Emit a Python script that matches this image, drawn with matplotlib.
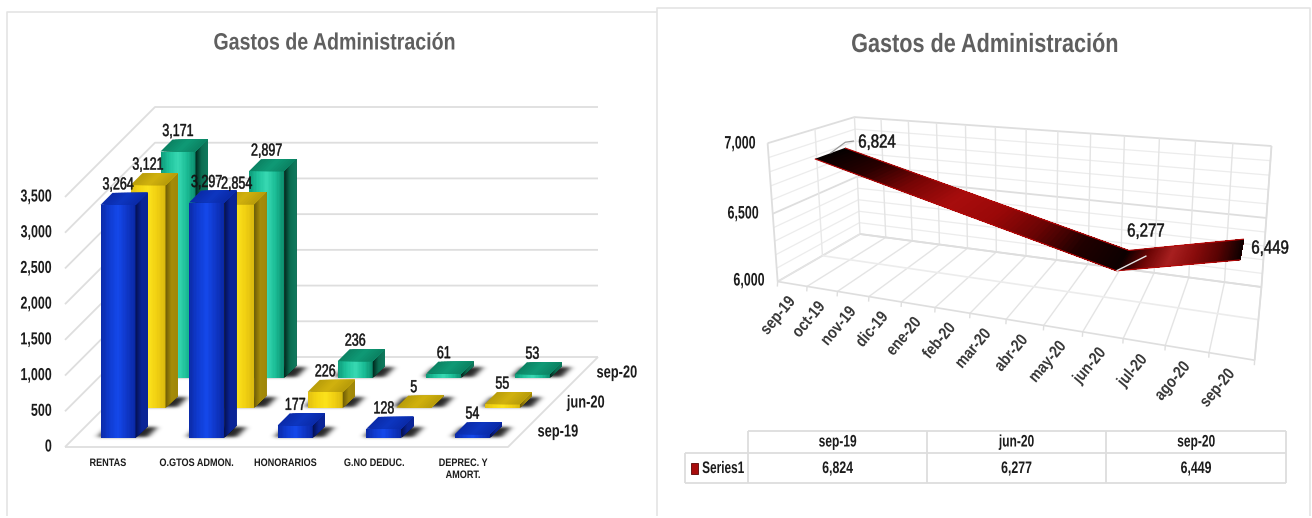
import numpy as np
import matplotlib
matplotlib.use("Agg")
import matplotlib.pyplot as plt
from matplotlib.collections import PolyCollection
from matplotlib.colors import LinearSegmentedColormap as LSC
from matplotlib.patches import Rectangle
from matplotlib.path import Path
from matplotlib.patheffects import AbstractPathEffect
from matplotlib.transforms import Affine2D

# ---------- data ----------
categories = ["RENTAS", "O.GTOS ADMON.", "HONORARIOS", "G.NO DEDUC.", "DEPREC. Y\nAMORT."]
periods = ["sep-19", "jun-20", "sep-20"]
sep19 = [3264, 3297, 177, 128, 54]
jun20 = [3121, 2854, 226, 5, 55]
sep20 = [3171, 2897, 236, 61, 53]
yticks_left = [0, 500, 1000, 1500, 2000, 2500, 3000, 3500]

months = ["sep-19", "oct-19", "nov-19", "dic-19", "ene-20", "feb-20", "mar-20",
          "abr-20", "may-20", "jun-20", "jul-20", "ago-20", "sep-20"]
trend_pos = [0, 9, 12]
trend_val = [6824, 6277, 6449]
yticks_right = [6000, 6500, 7000]
title = "Gastos de Administración"
series_name = "Series1"

# ---------- canvas ----------
W, H = 1312, 518
fig = plt.figure(figsize=(W / 100, H / 100), dpi=100)
ax = fig.add_axes([0, 0, 1, 1])
FONT = ["Liberation Sans", "DejaVu Sans"]
GRID = "#dedede"
INK = "#1c1c1c"


class Squeeze(AbstractPathEffect):
    """Horizontally condense glyphs about the text's anchor (the reference font is a narrow one)."""

    def __init__(self, sx, anchor="center", stroke=0.0):
        super().__init__()
        self.sx, self.anchor, self.stroke = sx, anchor, stroke

    def draw_path(self, renderer, gc, tpath, affine, rgbFace=None):
        e = tpath.get_extents()
        a = {"center": (e.x0 + e.x1) / 2, "left": e.x0, "right": e.x1}[self.anchor]
        t = Affine2D().translate(-a, 0).scale(self.sx, 1).translate(a, 0) + affine
        g = renderer.new_gc()
        g.copy_properties(gc)
        if self.stroke and rgbFace is not None:
            g.set_linewidth(self.stroke)
            g.set_foreground(rgbFace)
        renderer.draw_path(g, tpath, t, rgbFace)
        g.restore()


def label(x, y, s, size, sx, bold=True, color=INK, ha="center", stroke=0.0, **kw):
    kw.setdefault("va", "center")
    ax.text(x, y, s, family=FONT, fontsize=size, fontweight="bold" if bold else "normal", color=color, ha=ha,
            path_effects=[Squeeze(sx, ha, stroke)], **kw)


def line(pts, color=GRID, lw=1.3, z=1):
    pts = np.array(pts, float)
    ax.plot(pts[:, 0], pts[:, 1], color=color, lw=lw, zorder=z, solid_capstyle="butt")


# panel frames
line([(7, 516), (7, 12), (657, 12)], "#e4e4e4", 1.2)
line([(657, 516), (657, 8), (1310, 8), (1310, 516)], "#e4e4e4", 1.2)

label(335, 43, title, 17, .83, color="#5f5f5f")
label(985, 45, title, 19, .82, color="#5f5f5f")

# ---------- left chart: oblique 3-D bars ----------
X0, Y0 = 65, 447          # front-left floor corner
FLOOR_W = 443             # px across categories
DEPTH = 90                # px of oblique depth
PX_PER_UNIT = 250 / 3500
SLOT = FLOOR_W / len(categories)
SLOT_D = DEPTH / len(periods)
BAR_W, BAR_D, GAP_X, GAP_D = 35, 12, 26.5, 9


def obl(x_px, d_px, val):
    return (X0 + x_px + d_px, Y0 - val * PX_PER_UNIT - d_px)


for v in yticks_left:
    line([obl(0, 0, v), obl(0, DEPTH, v), obl(FLOOR_W, DEPTH, v)])
    label(52, Y0 - v * PX_PER_UNIT, f"{v:,}", 12.5, .72, ha="right")
line([obl(0, 0, 0), obl(FLOOR_W, 0, 0), obl(FLOOR_W, DEPTH, 0)])

for i, c in enumerate(categories):
    label(108 + i * 88.8, 458, c, 7.8, .84, va="top", linespacing=1.25)
for p, pos in zip(periods, [(558, 432), (586, 403), (617, 373)]):
    label(pos[0], pos[1], p, 12.5, .74)


def strips(p00, p10, p11, p01, cmap, z, n=26):
    """Fill a quad with a gradient from the p00-p01 edge to the p10-p11 edge (painted back to front)."""
    p00, p10, p11, p01 = map(np.array, (p00, p10, p11, p01))
    polys, cols = [], []
    for j in range(n):
        a = j / n
        polys.append([p00 + (p10 - p00) * a, p10, p11, p01 + (p11 - p01) * a])
        cols.append(cmap((j + 0.5) / n))
    ax.add_collection(PolyCollection(polys, facecolors=cols, edgecolors="none", zorder=z))


styles = {
    0: dict(front=LSC.from_list("b", ["#0b2aa6", "#0f3bd0", "#1448ea", "#0f37c8", "#0a28a4"]),
            side=LSC.from_list("bs", ["#04104f", "#0a2496", "#0a2496"]),
            top=LSC.from_list("bt", ["#0a2aa8", "#0d36c0", "#0a2aa8"])),
    1: dict(front=LSC.from_list("y", ["#e0bf12", "#f4d512", "#fbe21c", "#f1d012", "#d9b80e"]),
            side=LSC.from_list("ys", ["#6e5c06", "#a58c0a", "#a08708"]),
            top=LSC.from_list("yt", ["#b89c0a", "#d1b20e", "#b89c0a"])),
    2: dict(front=LSC.from_list("g", ["#0d9a78", "#1fc39c", "#38d8b2", "#1bbd96", "#0b8c6c"]),
            side=LSC.from_list("gs", ["#01261c", "#0b6e52", "#117a5e"]),
            top=LSC.from_list("gt", ["#0b8262", "#0f9a76", "#0b8262"])),
}

# blurred floor shadows, rasterised from the bar footprints
gx, gy = np.meshgrid(np.arange(W) + .5, np.arange(H) + .5)
grid_pts = np.column_stack([gx.ravel(), gy.ravel()])
mask = np.zeros(H * W, bool)
for s in range(len(periods)):
    d0 = s * SLOT_D + GAP_D
    d1 = d0 + BAR_D
    for i in range(len(categories)):
        x0 = i * SLOT + GAP_X
        x1 = x0 + BAR_W
        foot = [obl(x0 - 4, d0 + 1, 0), obl(x1 + 11, d0 + 1, 0), obl(x1 + 11, d1 - 1, 0), obl(x0 - 4, d1 - 1, 0)]
        mask |= Path(foot).contains_points(grid_pts)
shadow = mask.reshape(H, W).astype(float)
kx = np.exp(-0.5 * (np.arange(-9, 10) / 3.2) ** 2)
kx /= kx.sum()
shadow = np.apply_along_axis(lambda r: np.convolve(r, kx, "same"), 1, shadow)
ky = np.exp(-0.5 * (np.arange(-6, 7) / 1.5) ** 2)
ky /= ky.sum()
shadow = np.apply_along_axis(lambda c: np.convolve(c, ky, "same"), 0, shadow)
rgba = np.zeros((H, W, 4))
rgba[..., 3] = np.clip(shadow * .85, 0, 1)
ax.imshow(rgba, extent=(0, W, H, 0), aspect="auto", zorder=2, interpolation="bilinear")
ax.set_xlim(0, W)
ax.set_ylim(H, 0)
ax.axis("off")

z = 3
for s, vals in reversed(list(enumerate([sep19, jun20, sep20]))):
    st = styles[s]
    d0 = s * SLOT_D + GAP_D
    d1 = d0 + BAR_D
    for i, v in enumerate(vals):
        x0 = i * SLOT + GAP_X
        x1 = x0 + BAR_W
        strips(obl(x0, d0, 0), obl(x1, d0, 0), obl(x1, d0, v), obl(x0, d0, v), st["front"], z)
        strips(obl(x1, d0, 0), obl(x1, d1, 0), obl(x1, d1, v), obl(x1, d0, v), st["side"], z)
        strips(obl(x0, d0, v), obl(x1, d0, v), obl(x1, d1, v), obl(x0, d1, v), st["top"], z, n=12)
    z += 2

for s, vals in enumerate([sep19, jun20, sep20]):
    d1 = s * SLOT_D + GAP_D + BAR_D
    for i, v in enumerate(vals):
        lx, ly = obl(i * SLOT + GAP_X + BAR_W / 2, d1, v)
        label(lx - BAR_D, ly - 8, f"{v:,}", 12.5, .72, bold=False, color="#141414", stroke=.35, zorder=20)

# ---------- right chart: perspective box, calibrated on the reference's grid corners ----------
front_bottom = [(778, 282), (807, 287), (838, 292), (869, 297), (902, 302), (935, 307), (970, 313),
                (1006, 318), (1044, 325), (1082, 332), (1123, 338), (1165, 347), (1209, 353), (1255, 360)]
back_bottom = [(860, 235), (886, 237), (912, 240), (939, 243), (967, 247), (995, 252), (1026, 257),
               (1057, 260), (1089, 265), (1122, 269), (1154, 273), (1189, 278), (1225, 282), (1260, 287)]
back_top = [(854, 116), (882, 120), (908, 122), (937, 123), (965, 125), (995, 127), (1027, 129),
            (1058, 131), (1090, 133), (1125, 136), (1160, 138), (1195, 141), (1233, 143), (1271, 145)]
N = len(months)
calib = []
for j in range(N + 1):
    calib.append(((j / N, 0, 0), front_bottom[j]))
    calib.append(((j / N, 1, 0), back_bottom[j]))
    calib.append(((j / N, 1, 1), back_top[j]))
calib += [((0, 0, 1), (767, 142)), ((0, .5, 1), (815, 130)), ((0, .5, 0), (822, 255))]
A, b = [], []
for (u, d, w), (px, py) in calib:
    A.append([u, d, w, 1, 0, 0, 0, 0, -px * u, -px * d, -px * w])
    b.append(px)
    A.append([0, 0, 0, 0, u, d, w, 1, -py * u, -py * d, -py * w])
    b.append(py)
P = np.append(np.linalg.lstsq(np.array(A), np.array(b), rcond=None)[0], 1).reshape(3, 4)
YMIN, YMAX = yticks_right[0], yticks_right[-1]


def persp(slot, d, val):
    q = P @ np.array([slot / N, d, (val - YMIN) / (YMAX - YMIN), 1.0])
    return (q[0] / q[2], q[1] / q[2])


for v in np.arange(YMIN, YMAX + 1, 100):
    major = v % 500 == 0
    c, lw = (GRID, 1.3) if major else ("#ececec", 0.9)
    line([persp(0, 0, v), persp(0, 1, v), persp(N, 1, v)], c, lw)
for j in range(N + 1):
    line([persp(j, 1, YMIN), persp(j, 1, YMAX)], "#e4e4e4", 1.0)
    line([persp(j, 0, YMIN), persp(j, 1, YMIN)], "#e4e4e4", 1.0)
    bottom = persp(j, 0, YMIN)
    line([bottom, (bottom[0] - 0.3, bottom[1] + 5)], GRID, 1.0)
line([persp(0, 0, YMIN), persp(0, 0, YMAX)])
line([persp(0, .5, YMIN), persp(0, .5, YMAX)], "#e8e8e8", 1.0)
for d in (0, .5, 1):
    line([persp(0, d, YMIN), persp(N, d, YMIN)], GRID if d != .5 else "#ececec", 1.2)
line([persp(N, 0, YMIN), persp(N, 1, YMIN), persp(N, 1, YMAX)])

for v, pos in zip(yticks_right, [(765, 281), (759, 214), (756, 144)]):
    label(pos[0], pos[1], f"{v:,}", 13, .69, ha="right")

for j, m in enumerate(months):
    bx, by = persp(j + .5, 0, YMIN)
    label(bx, by + 15, m, 12, .84, color="#3a3a3a", ha="right", rotation=50, rotation_mode="anchor")

# ribbon
D0, D1 = 0.32, 0.68
ribbon_long = LSC.from_list("r", ["#050000", "#280000", "#7a0505", "#a80d0d", "#9a0808", "#6a0404", "#200000", "#0c0000"])
ribbon_short = LSC.from_list("r2", ["#100000", "#6e0505", "#a82020", "#8a0c0c", "#5a0303", "#0d0000"])
for seg, cmap in enumerate([ribbon_long, ribbon_short]):
    s0, s1 = trend_pos[seg] + .5, trend_pos[seg + 1] + .5
    v0, v1 = trend_val[seg], trend_val[seg + 1]
    strips(persp(s0, D0, v0), persp(s1, D0, v1), persp(s1, D1, v1), persp(s0, D1, v0), cmap, 5, n=70)
for d in (D0, D1):
    pts = [persp(p + .5, d, v) for p, v in zip(trend_pos, trend_val)]
    line(pts, "#b80808", 0.8, z=6)

lab_pos = [(877, 143), (1146, 232), (1270, 249)]
for k, v in enumerate(trend_val):
    label(*lab_pos[k], f"{v:,}", 13.5, .8, bold=False, color="#141414", stroke=.35, zorder=8)
a0 = persp(trend_pos[0] + .5, .5, trend_val[0])
line([a0, (a0[0] + 15, a0[1] - 11), (854, 141)], "#9a9a9a", 0.9, z=7)
a1 = persp(trend_pos[1] + .5, D0, trend_val[1])
line([a1, (a1[0] + 30, a1[1] - 15)], "#e6e6e6", 1.0, z=7)

# data table
col_x = [748, 927, 1106, 1286]
tbl_left, tbl_top, tbl_mid, tbl_bot = 685, 431, 453, 483
tbl_c = "#dddddd"
line([(col_x[0], tbl_top), (col_x[-1], tbl_top)], tbl_c, 1.3)
line([(tbl_left, tbl_mid), (col_x[-1], tbl_mid)], tbl_c, 1.3)
line([(tbl_left, tbl_bot), (col_x[-1], tbl_bot)], tbl_c, 1.3)
line([(tbl_left, tbl_mid), (tbl_left, tbl_bot)], tbl_c, 1.3)
for x in col_x:
    line([(x, tbl_top), (x, tbl_bot)], tbl_c, 1.3)
for j, (p, v) in enumerate(zip(periods, trend_val)):
    cx = (col_x[j] + col_x[j + 1]) / 2
    label(cx, 442, p, 12, .72)
    label(cx, 468.5, f"{v:,}", 12, .74)
ax.add_patch(Rectangle((691, 463), 6.5, 11, fc="#a80c0c", ec="#5a0303", lw=0.6))
label(702, 468.5, series_name, 12, .71, ha="left")

fig.savefig("out.png", dpi=100)
